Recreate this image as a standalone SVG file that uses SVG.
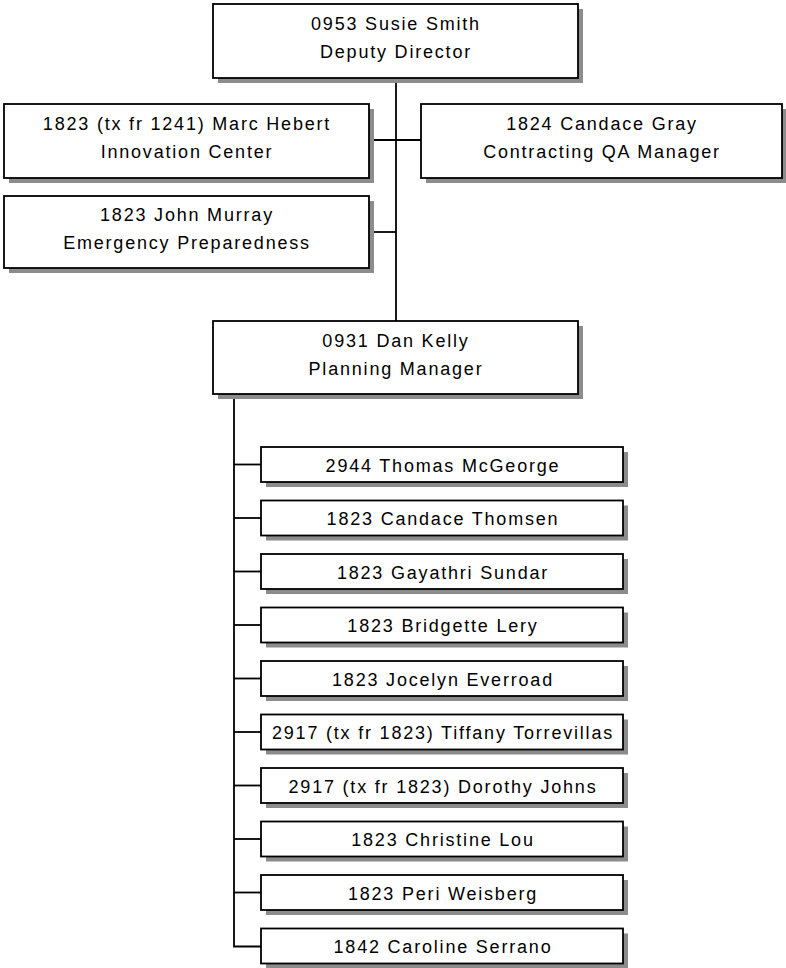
<svg xmlns="http://www.w3.org/2000/svg" width="786" height="968" viewBox="0 0 786 968">
  <style>
    .shadow { fill: #8c8c8c; }
    .box { fill: #ffffff; stroke: #000000; stroke-width: 1.8; }
    .link { fill: none; stroke: #000000; stroke-width: 1.8; }
    text { font-family: "Liberation Sans", Arial, sans-serif; font-size: 18px; fill: #000000; text-anchor: middle; letter-spacing: 1.8px; }
  </style>
  <rect width="786" height="968" fill="#ffffff"/>

  <!-- connectors -->
  <g id="connectors">
    <line class="link" x1="396" y1="78" x2="396" y2="321"/>
    <line class="link" x1="369" y1="140" x2="421" y2="140"/>
    <line class="link" x1="369" y1="232" x2="396" y2="232"/>
    <path class="link" d="M234 394 V946.5 H261"/>
    <line class="link" x1="234" y1="464.5" x2="261" y2="464.5"/>
    <line class="link" x1="234" y1="518" x2="261" y2="518"/>
    <line class="link" x1="234" y1="571.5" x2="261" y2="571.5"/>
    <line class="link" x1="234" y1="625" x2="261" y2="625"/>
    <line class="link" x1="234" y1="678.5" x2="261" y2="678.5"/>
    <line class="link" x1="234" y1="732" x2="261" y2="732"/>
    <line class="link" x1="234" y1="785.5" x2="261" y2="785.5"/>
    <line class="link" x1="234" y1="839" x2="261" y2="839"/>
    <line class="link" x1="234" y1="892.5" x2="261" y2="892.5"/>
  </g>

  <!-- management boxes -->
  <g id="susie-smith">
    <rect class="shadow" x="218" y="9" width="365" height="74"/>
    <rect class="box" x="213" y="4" width="365" height="74"/>
    <text x="396" y="30">0953 Susie Smith</text>
    <text x="396" y="58">Deputy Director</text>
  </g>
  <g id="marc-hebert">
    <rect class="shadow" x="9" y="109" width="365" height="74"/>
    <rect class="box" x="4" y="104" width="365" height="74"/>
    <text x="187" y="130">1823 (tx fr 1241) Marc Hebert</text>
    <text x="187" y="158">Innovation Center</text>
  </g>
  <g id="candace-gray">
    <rect class="shadow" x="426" y="109" width="361" height="74"/>
    <rect class="box" x="421" y="104" width="361" height="74"/>
    <text x="602" y="130">1824 Candace Gray</text>
    <text x="602" y="158">Contracting QA Manager</text>
  </g>
  <g id="john-murray">
    <rect class="shadow" x="9" y="201" width="365" height="72"/>
    <rect class="box" x="4" y="196" width="365" height="72"/>
    <text x="187" y="221">1823 John Murray</text>
    <text x="187" y="249">Emergency Preparedness</text>
  </g>
  <g id="dan-kelly">
    <rect class="shadow" x="218" y="326" width="365" height="73"/>
    <rect class="box" x="213" y="321" width="365" height="73"/>
    <text x="396" y="347">0931 Dan Kelly</text>
    <text x="396" y="375">Planning Manager</text>
  </g>

  <!-- staff boxes -->
  <g id="thomas-mcgeorge">
    <rect class="shadow" x="266" y="452" width="362" height="35"/>
    <rect class="box" x="261" y="447" width="362" height="35"/>
    <text x="443" y="471.5">2944 Thomas McGeorge</text>
  </g>
  <g id="candace-thomsen">
    <rect class="shadow" x="266" y="505.5" width="362" height="35"/>
    <rect class="box" x="261" y="500.5" width="362" height="35"/>
    <text x="443" y="525">1823 Candace Thomsen</text>
  </g>
  <g id="gayathri-sundar">
    <rect class="shadow" x="266" y="559" width="362" height="35"/>
    <rect class="box" x="261" y="554" width="362" height="35"/>
    <text x="443" y="578.5">1823 Gayathri Sundar</text>
  </g>
  <g id="bridgette-lery">
    <rect class="shadow" x="266" y="612.5" width="362" height="35"/>
    <rect class="box" x="261" y="607.5" width="362" height="35"/>
    <text x="443" y="632">1823 Bridgette Lery</text>
  </g>
  <g id="jocelyn-everroad">
    <rect class="shadow" x="266" y="666" width="362" height="35"/>
    <rect class="box" x="261" y="661" width="362" height="35"/>
    <text x="443" y="685.5">1823 Jocelyn Everroad</text>
  </g>
  <g id="tiffany-torrevillas">
    <rect class="shadow" x="266" y="719.5" width="362" height="35"/>
    <rect class="box" x="261" y="714.5" width="362" height="35"/>
    <text x="443" y="739">2917 (tx fr 1823) Tiffany Torrevillas</text>
  </g>
  <g id="dorothy-johns">
    <rect class="shadow" x="266" y="773" width="362" height="35"/>
    <rect class="box" x="261" y="768" width="362" height="35"/>
    <text x="443" y="792.5">2917 (tx fr 1823) Dorothy Johns</text>
  </g>
  <g id="christine-lou">
    <rect class="shadow" x="266" y="826.5" width="362" height="35"/>
    <rect class="box" x="261" y="821.5" width="362" height="35"/>
    <text x="443" y="846">1823 Christine Lou</text>
  </g>
  <g id="peri-weisberg">
    <rect class="shadow" x="266" y="880" width="362" height="35"/>
    <rect class="box" x="261" y="875" width="362" height="35"/>
    <text x="443" y="899.5">1823 Peri Weisberg</text>
  </g>
  <g id="caroline-serrano">
    <rect class="shadow" x="266" y="933.5" width="362" height="35"/>
    <rect class="box" x="261" y="928.5" width="362" height="35"/>
    <text x="443" y="953">1842 Caroline Serrano</text>
  </g>
</svg>
